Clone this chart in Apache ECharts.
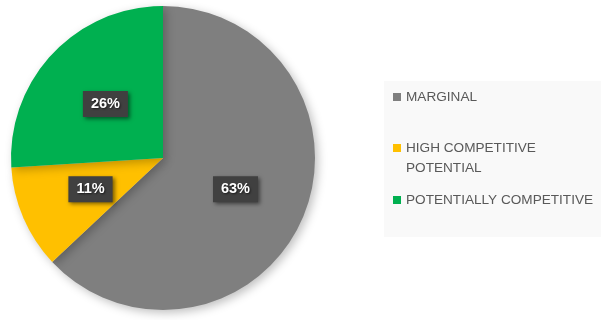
<!DOCTYPE html>
<html>
<head>
<meta charset="utf-8">
<script src="https://cdn.jsdelivr.net/npm/echarts@6/dist/echarts.min.js"></script>
<style>html,body{margin:0;padding:0;background:#fff}#c{width:601px;height:320px}</style>
</head>
<body>
<div id="c"></div>
<script>
const categories = ['MARGINAL', 'HIGH COMPETITIVE POTENTIAL', 'POTENTIALLY COMPETITIVE'];
const values = [63, 11, 26];
const colors = ['#7f7f7f', '#ffc000', '#00b050'];

const chart = echarts.init(document.getElementById('c'), null, {renderer: 'canvas'});
const legendText = {color: '#595959', fontSize: 13.6, fontFamily: 'Liberation Sans, Arial, sans-serif'};
const legendBase = {orient: 'vertical', left: 393, padding: 0, itemWidth: 8, itemHeight: 8, itemGap: 0, icon: 'rect', selectedMode: false};

chart.setOption({
  animation: false,
  graphic: [{type: 'rect', shape: {x: 384, y: 81, width: 217, height: 156}, style: {fill: '#f9f9f9'}, z: -1}],
  legend: [
    Object.assign({}, legendBase, {top: 90, data: [categories[0]], textStyle: legendText}),
    Object.assign({}, legendBase, {top: 118, data: [categories[1]],
      formatter: () => '\nHIGH COMPETITIVE\nPOTENTIAL',
      textStyle: Object.assign({}, legendText, {lineHeight: 20})}),
    Object.assign({}, legendBase, {top: 193, data: [categories[2]], textStyle: legendText})
  ],
  series: [{
    type: 'pie',
    center: [163, 158],
    radius: 152,
    startAngle: 90,
    clockwise: true,
    data: categories.map((c, i) => ({name: c, value: values[i], itemStyle: {color: colors[i]}})),
    itemStyle: {shadowBlur: 10, shadowColor: 'rgba(0,0,0,0.25)', shadowOffsetX: 3, shadowOffsetY: 3},
    label: {
      position: 'inside',
      formatter: p => p.value + '%',
      color: '#fff',
      fontWeight: 'bold',
      fontSize: 14.5,
      fontFamily: 'Liberation Sans, Arial, sans-serif',
      backgroundColor: '#404040',
      padding: [6, 8, 5, 8],
      shadowBlur: 4,
      shadowColor: 'rgba(0,0,0,0.5)',
      shadowOffsetX: 2,
      shadowOffsetY: 2,
      textShadowBlur: 2,
      textShadowColor: 'rgba(0,0,0,0.6)',
      textShadowOffsetX: 1,
      textShadowOffsetY: 1
    },
    labelLine: {show: false},
    emphasis: {disabled: true}
  }]
});
</script>
</body>
</html>
